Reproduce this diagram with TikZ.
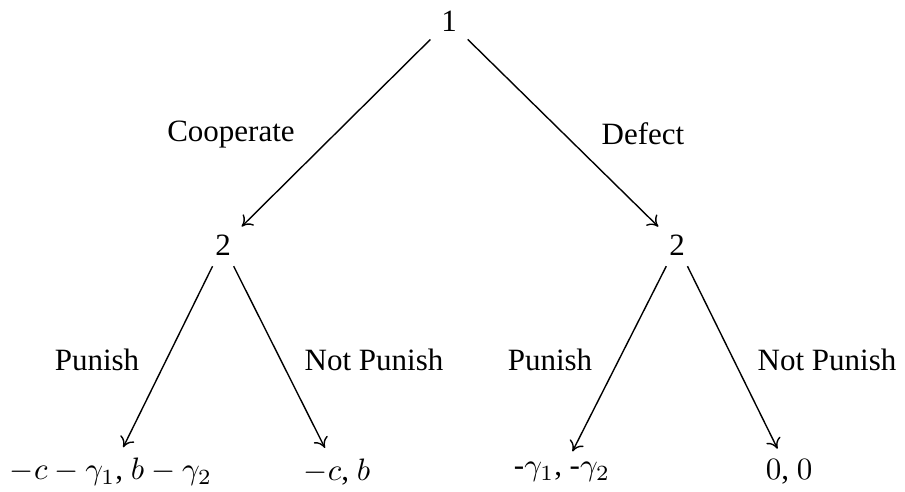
\documentclass[tikz,border=0pt]{standalone}
\usepackage[no-math]{fontspec}
\setmainfont{Liberation Serif}
\usetikzlibrary{arrows.meta}
\begin{document}
\begin{tikzpicture}[x=0.3226pt,y=-0.3226pt,
  every node/.style={font=\fontsize{10}{12}\selectfont},
  edge/.style={-{To[length=3.2pt,width=5pt]},line width=0.45pt}]
\useasboundingbox (0,0) rectangle (905,491);
% decision nodes
\node (n1) at (449,21) {1};
\node (n2l) at (223,245) {2};
\node (n2r) at (677,245) {2};
% payoffs
\node (l1) at (111,472) {$-c-\gamma_1$, $b-\gamma_2$};
\node (l2) at (337,472) {$-c$, $b$};
\node (l3) at (562,472) {-$\gamma_1$, -$\gamma_2$};
\node (l4) at (789,472) {$0$, $0$};
% edges
\draw[edge] (n1) -- (n2l);
\draw[edge] (n1) -- (n2r);
\draw[edge] (n2l) -- (l1);
\draw[edge] (n2l) -- (l2);
\draw[edge] (n2r) -- (l3);
\draw[edge] (n2r) -- (l4);
% action labels
\node (a1) at (231,135) {Cooperate};
\node (a2) at (643,134) {Defect};
\node (a3) at (97,360) {Punish};
\node (a4) at (374,360) {Not Punish};
\node (a5) at (550,360) {Punish};
\node (a6) at (827,360) {Not Punish};
\end{tikzpicture}
\end{document}
